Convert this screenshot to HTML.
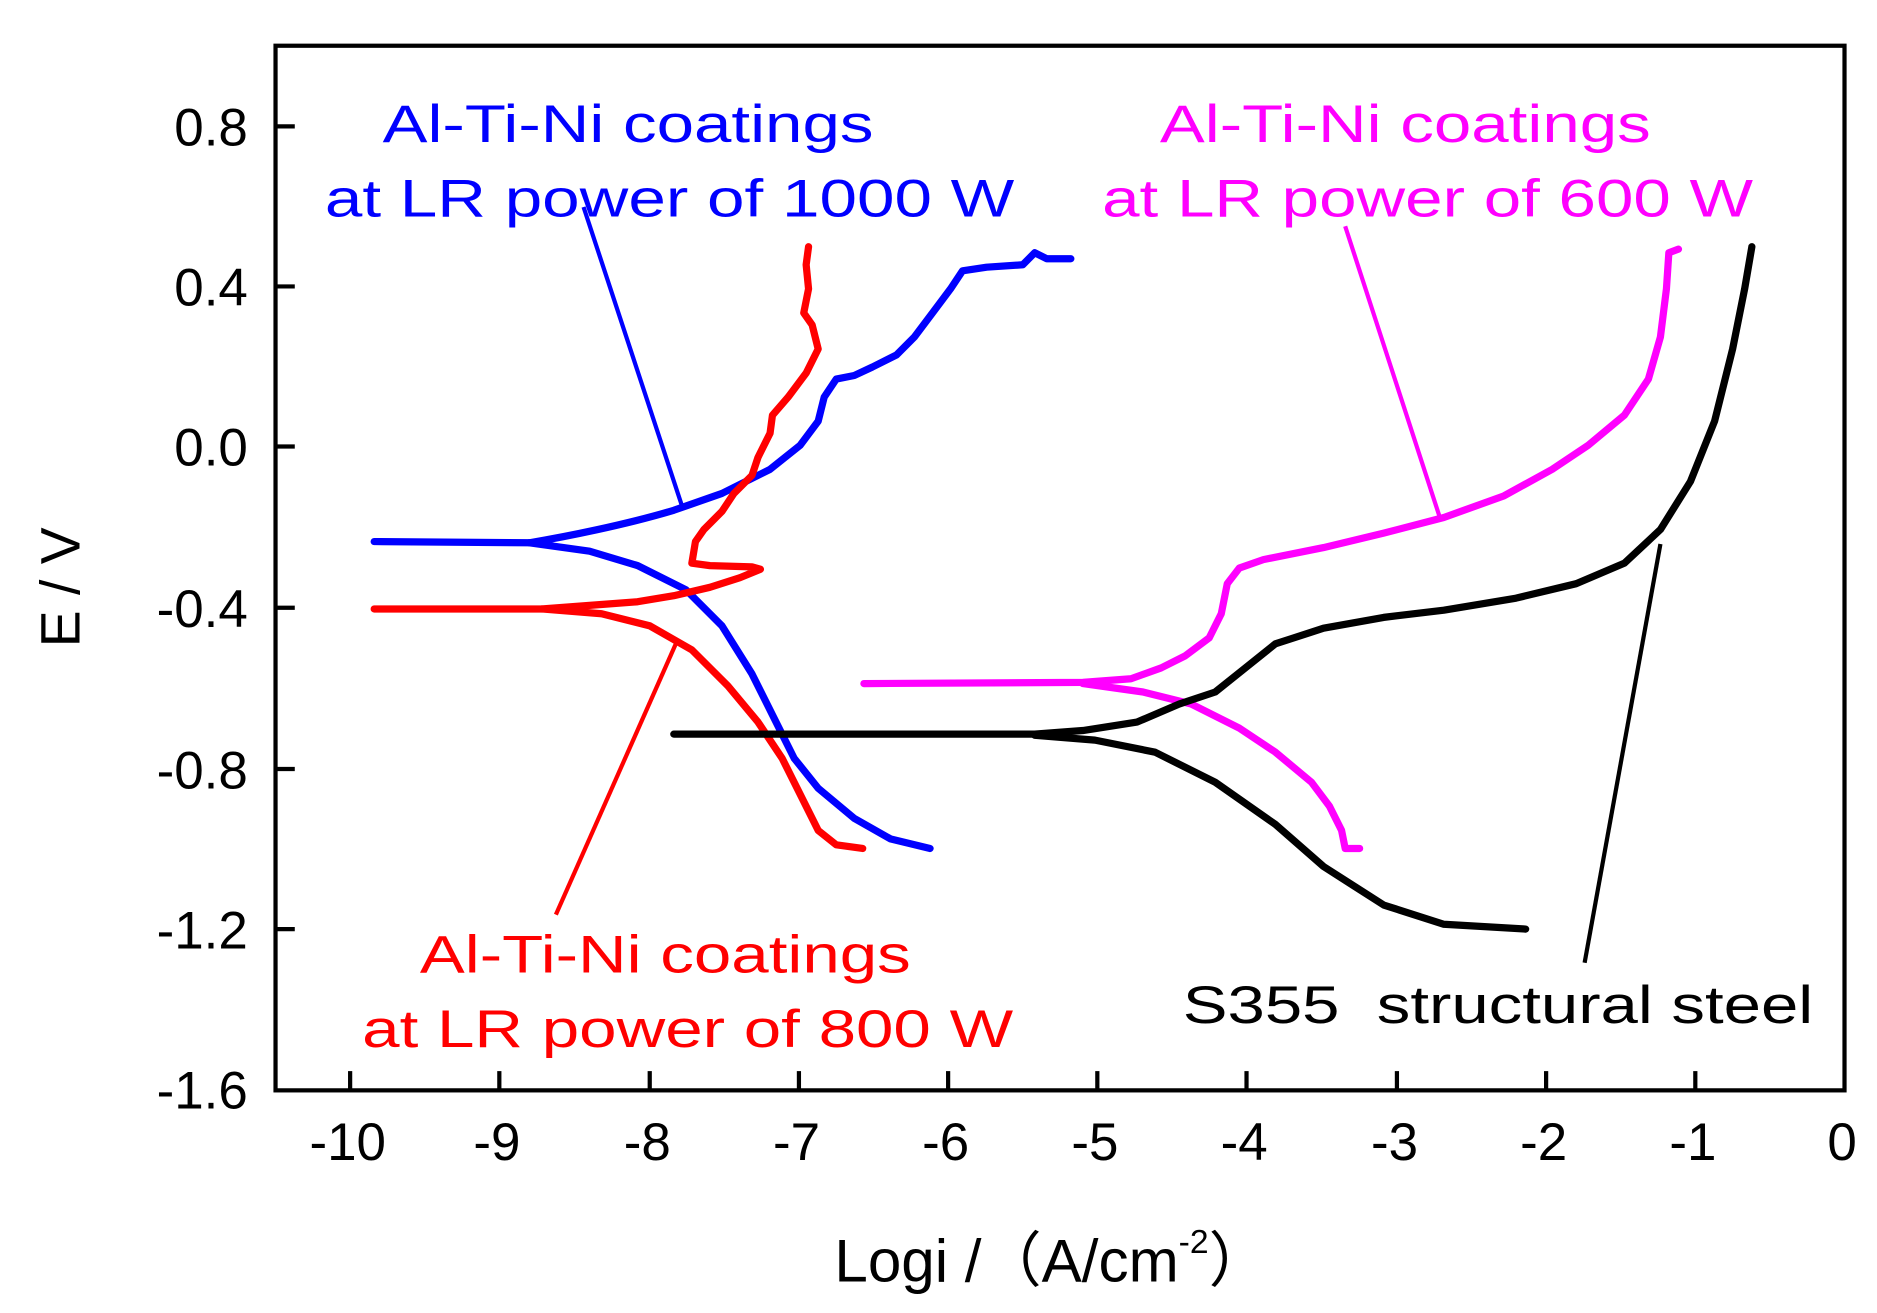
<!DOCTYPE html>
<html><head><style>html,body{margin:0;padding:0;background:#fff;}svg{display:block}</style></head>
<body>
<svg width="1877" height="1313" viewBox="0 0 1560 1091" preserveAspectRatio="none" xmlns="http://www.w3.org/2000/svg" font-family="Liberation Sans, Arial, sans-serif">
<rect width="1560" height="1091" fill="#fff"/>
<rect x="229" y="38" width="1304" height="868" fill="none" stroke="#000" stroke-width="3.5"/>
<g stroke="#000" stroke-width="3.5">
<line x1="291" y1="906" x2="291" y2="890"/><line x1="415" y1="906" x2="415" y2="890"/><line x1="540" y1="906" x2="540" y2="890"/><line x1="664" y1="906" x2="664" y2="890"/><line x1="788" y1="906" x2="788" y2="890"/><line x1="912" y1="906" x2="912" y2="890"/><line x1="1036" y1="906" x2="1036" y2="890"/><line x1="1161" y1="906" x2="1161" y2="890"/><line x1="1285" y1="906" x2="1285" y2="890"/><line x1="1409" y1="906" x2="1409" y2="890"/>
<line x1="229" y1="105" x2="245" y2="105"/><line x1="229" y1="238" x2="245" y2="238"/><line x1="229" y1="371" x2="245" y2="371"/><line x1="229" y1="505" x2="245" y2="505"/><line x1="229" y1="639" x2="245" y2="639"/><line x1="229" y1="772" x2="245" y2="772"/>
</g>
<g font-size="44" text-anchor="end" fill="#000">
<text x="206" y="121">0.8</text><text x="206" y="254">0.4</text><text x="206" y="387">0.0</text><text x="206" y="521">-0.4</text><text x="206" y="655">-0.8</text><text x="206" y="788">-1.2</text><text x="206" y="921">-1.6</text>
</g>
<g font-size="44" text-anchor="middle" fill="#000">
<text x="289" y="964">-10</text><text x="413" y="964">-9</text><text x="538" y="964">-8</text><text x="662" y="964">-7</text><text x="786" y="964">-6</text><text x="910" y="964">-5</text><text x="1034" y="964">-4</text><text x="1159" y="964">-3</text><text x="1283" y="964">-2</text><text x="1407" y="964">-1</text><text x="1531" y="964">0</text>
</g>
<text x="874" y="1065" font-size="50" text-anchor="middle">Logi /（A/cm<tspan font-size="28" dy="-24">-2</tspan><tspan dy="24">）</tspan></text>
<text transform="translate(66,488) rotate(-90)" font-size="46" text-anchor="middle">E / V</text>
<g fill="none" stroke-width="6" stroke-linejoin="round" stroke-linecap="round">
<path stroke="#0000ff" d="M311,450 L440,451 C470,446 520,436 560,424 L600,410 640,390 665,370 680,350 685,330 695,315 710,312 725,305 745,295 760,280 775,260 790,240 800,225 820,222 850,220 860,210 870,215 890,215"/>
<path stroke="#0000ff" d="M440,451 L490,458 530,470 570,490 600,520 625,560 645,600 660,630 680,655 710,680 740,697 773,705"/>
<path stroke="#ff0000" d="M311,506 L450,506 490,503 530,500 560,495 590,488 615,480 632,473 625,471 590,470 575,468 578,450 585,440 600,425 610,410 625,395 630,380 640,360 642,345 655,330 670,310 680,290 675,270 668,260 672,240 670,220 672,205"/>
<path stroke="#ff0000" d="M450,506 L500,510 540,520 575,540 605,570 630,600 650,630 665,660 680,690 695,702 717,705"/>
<path stroke="#ff00ff" d="M718,568 L900,567 940,564 965,555 985,545 1005,530 1015,510 1020,485 1030,472 1050,465 1100,455 1150,443 1200,430 1250,412 1290,390 1320,370 1350,345 1370,315 1380,280 1385,240 1387,210 1395,207"/>
<path stroke="#ff00ff" d="M900,568 L950,575 990,585 1030,605 1060,625 1090,650 1105,670 1115,690 1118,705 1130,705"/>
<path stroke="#000" d="M560,610 L860,610 900,607 945,600 980,585 1010,575 1035,555 1060,535 1100,522 1150,513 1200,507 1260,497 1310,485 1350,468 1380,440 1405,400 1425,350 1440,290 1450,240 1456,205"/>
<path stroke="#000" d="M860,611 L910,615 960,625 1010,650 1060,685 1100,720 1150,752 1200,768 1268,772"/>
</g>
<g stroke-width="3.5">
<line x1="485" y1="172" x2="568" y2="424" stroke="#0000ff"/>
<line x1="1118" y1="188" x2="1197" y2="431" stroke="#ff00ff"/>
<line x1="462" y1="760" x2="563" y2="532" stroke="#ff0000"/>
<line x1="1317" y1="800" x2="1380" y2="452" stroke="#000"/>
</g>
<g font-size="44">
<text x="318" y="118" fill="#0000ff" textLength="408" lengthAdjust="spacingAndGlyphs">Al-Ti-Ni coatings</text>
<text x="270" y="180" fill="#0000ff" textLength="573" lengthAdjust="spacingAndGlyphs">at LR power of 1000 W</text>
<text x="964" y="118" fill="#ff00ff" textLength="408" lengthAdjust="spacingAndGlyphs">Al-Ti-Ni coatings</text>
<text x="916" y="180" fill="#ff00ff" textLength="541" lengthAdjust="spacingAndGlyphs">at LR power of 600 W</text>
<text x="349" y="808" fill="#ff0000" textLength="408" lengthAdjust="spacingAndGlyphs">Al-Ti-Ni coatings</text>
<text x="301" y="870" fill="#ff0000" textLength="541" lengthAdjust="spacingAndGlyphs">at LR power of 800 W</text>
<text x="983" y="850" fill="#000" textLength="524" lengthAdjust="spacingAndGlyphs" xml:space="preserve">S355  structural steel</text>
</g>
</svg>
</body></html>
